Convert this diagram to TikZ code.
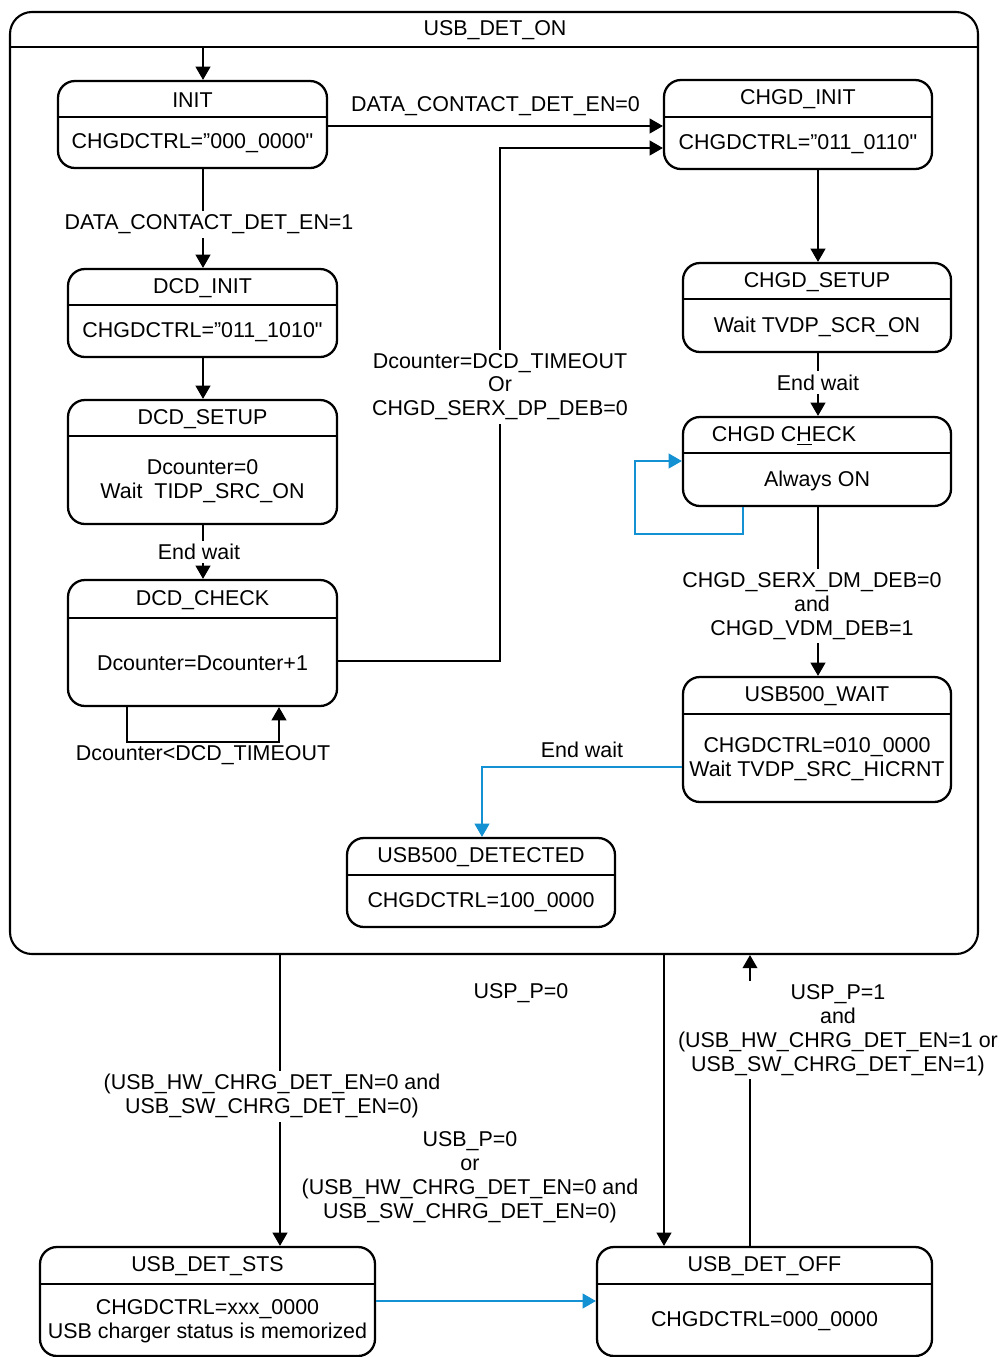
\documentclass[tikz,border=0pt]{standalone}
\usepackage{fontspec}
\setmainfont{Liberation Sans}
\usetikzlibrary{arrows.meta,fit}

\definecolor{flowblue}{RGB}{20,145,210}

\tikzset{
  statefr/.style={draw, line width=1.3pt, rounded corners=0.34cm, inner sep=0pt},
  divline/.style={line width=1.3pt},
  lbl/.style={font=\fontsize{12.2}{13.6}\selectfont, align=center, inner sep=2pt},
  cond/.style={lbl, fill=white},
  trans/.style={line width=0.6pt, -{Triangle[length=7.5pt,width=8.5pt]}},
  btrans/.style={trans, draw=flowblue},
}

% name, x1, y1, x2, y2, divider y, title, body
\newcommand{\statebox}[8]{%
  \path (#2,#3) coordinate (#1-tl) (#4,#5) coordinate (#1-br) (#2,#6) coordinate (#1-div);
  \node[statefr, fit=(#1-tl)(#1-br)] (#1) {};
  \draw[divline] (#1.west |- #1-div) -- (#1.east |- #1-div);
  \node[lbl] (#1-title) at ({(#2+#4)/2},{(#3+#6)/2+1}) {#7};
  \node[lbl] (#1-body) at ({(#2+#4)/2},{(#6+#5)/2+1}) {#8};
}

\begin{document}
\begin{tikzpicture}[x=0.02cm, y=-0.02cm]
\useasboundingbox (0,0) rectangle (1000,1357);

% outer state
\path (10,12) coordinate (deton-tl) (978,954) coordinate (deton-br) (10,47) coordinate (deton-div);
\node[statefr, rounded corners=0.44cm, line width=1.2pt, fit=(deton-tl)(deton-br)] (usbdeton) {};
\draw[divline, line width=1.2pt] (usbdeton.west |- deton-div) -- (usbdeton.east |- deton-div);
\node[lbl] (usbdeton-title) at (495,30) {USB\_DET\_ON};

% inner states
\statebox{init}{58}{81}{327}{168}{117}{INIT}{CHGDCTRL=”000\_0000\textquotedbl}
\statebox{dcdinit}{68}{269}{337}{357}{305}{DCD\_INIT}{CHGDCTRL=”011\_1010\textquotedbl}
\statebox{dcdsetup}{68}{400}{337}{524}{436}{DCD\_SETUP}{Dcounter=0\\Wait\ \ TIDP\_SRC\_ON}
\statebox{dcdcheck}{68}{580}{337}{706}{618}{DCD\_CHECK}{Dcounter=Dcounter+1}
\statebox{chgdinit}{664}{80}{932}{169}{117}{CHGD\_INIT}{CHGDCTRL=”011\_0110\textquotedbl}
\statebox{chgdsetup}{683}{263}{951}{352}{299}{CHGD\_SETUP}{Wait TVDP\_SCR\_ON}
\statebox{chgdcheck}{683}{417}{951}{506}{453}{}{Always ON}
\node[lbl] (chgdcheck-name) at (784,436) {CHGD C\underline{H}ECK};
\statebox{usbwait}{683}{677}{951}{802}{714}{USB500\_WAIT}{CHGDCTRL=010\_0000\\Wait TVDP\_SRC\_HICRNT}
\statebox{usbdetected}{347}{838}{615}{927}{875}{USB500\_DETECTED}{CHGDCTRL=100\_0000}

% states outside
\statebox{detsts}{40}{1247}{375}{1356}{1284}{USB\_DET\_STS}{CHGDCTRL=xxx\_0000\\USB charger status is memorized}
\statebox{detoff}{597}{1247}{932}{1356}{1284}{USB\_DET\_OFF}{CHGDCTRL=000\_0000}

% transitions inside
\draw[trans] (203,0 |- deton-div) -- (203,0 |- init.north);
\draw[trans] (init.east |- 0,126) -- node[lbl, midway, yshift=0.4cm] (lbl-dcd0) {DATA\_CONTACT\_DET\_EN=0} (chgdinit.west |- 0,126);
\draw[trans] (203,0 |- init.south) -- node[cond, pos=0.56, xshift=0.12cm] (lbl-dcd1) {DATA\_CONTACT\_DET\_EN=1} (203,0 |- dcdinit.north);
\draw[trans] (203,0 |- dcdinit.south) -- (203,0 |- dcdsetup.north);
\draw[trans] (203,0 |- dcdsetup.south) -- node[cond, pos=0.5, xshift=-0.08cm] (lbl-dcdwait) {End wait} (203,0 |- dcdcheck.north);
\draw[trans] (127,0 |- dcdcheck.south) |- node[lbl, pos=0.75, yshift=-0.26cm] (lbl-dcdloop) {Dcounter<DCD\_TIMEOUT} (279,742) -- (279,0 |- dcdcheck.south);
\draw[trans] (dcdcheck.east |- 0,661) -- (500,661) -- node[cond, pos=0.535] (lbl-timeout) {Dcounter=DCD\_TIMEOUT\\Or\\CHGD\_SERX\_DP\_DEB=0} (500,148) -- (chgdinit.west |- 0,148);
\draw[trans] (818,0 |- chgdinit.south) -- (818,0 |- chgdsetup.north);
\draw[trans] (818,0 |- chgdsetup.south) -- node[cond, pos=0.47] (lbl-chgdwait) {End wait} (818,0 |- chgdcheck.north);
\draw[btrans] (743,0 |- chgdcheck.south) -- (743,534) -| (635,461) -- (chgdcheck.west |- 0,461);
\draw[trans] (818,0 |- chgdcheck.south) -- node[cond, pos=0.585, xshift=-0.12cm] (lbl-vdm) {CHGD\_SERX\_DM\_DEB=0\\and\\CHGD\_VDM\_DEB=1} (818,0 |- usbwait.north);
\draw[btrans] (usbwait.west |- 0,767) -| node[lbl, pos=0.25, yshift=0.34cm] (lbl-usbwait) {End wait} (482,0 |- usbdetected.north);

% transitions outside
\draw[trans] (280,0 |- usbdeton.south) -- node[cond, pos=0.486, xshift=-0.16cm] (lbl-disable) {(USB\_HW\_CHRG\_DET\_EN=0 and\\USB\_SW\_CHRG\_DET\_EN=0)} (280,0 |- detsts.north);
\draw[trans] (664,0 |- usbdeton.south) -- node[lbl, pos=0.13, xshift=-2.86cm] (lbl-usp0) {USP\_P=0} (664,0 |- detoff.north);
\draw[btrans] (detsts.east |- 0,1301) -- node[lbl, midway, xshift=-0.32cm, yshift=2.47cm] (lbl-off) {USB\_P=0\\or\\(USB\_HW\_CHRG\_DET\_EN=0 and\\USB\_SW\_CHRG\_DET\_EN=0)} (detoff.west |- 0,1301);
\draw[trans] (750,0 |- detoff.north) -- node[cond, pos=0.742, xshift=1.76cm] (lbl-on) {USP\_P=1\\and\\(USB\_HW\_CHRG\_DET\_EN=1 or\\USB\_SW\_CHRG\_DET\_EN=1)} (750,0 |- usbdeton.south);
\end{tikzpicture}
\end{document}
